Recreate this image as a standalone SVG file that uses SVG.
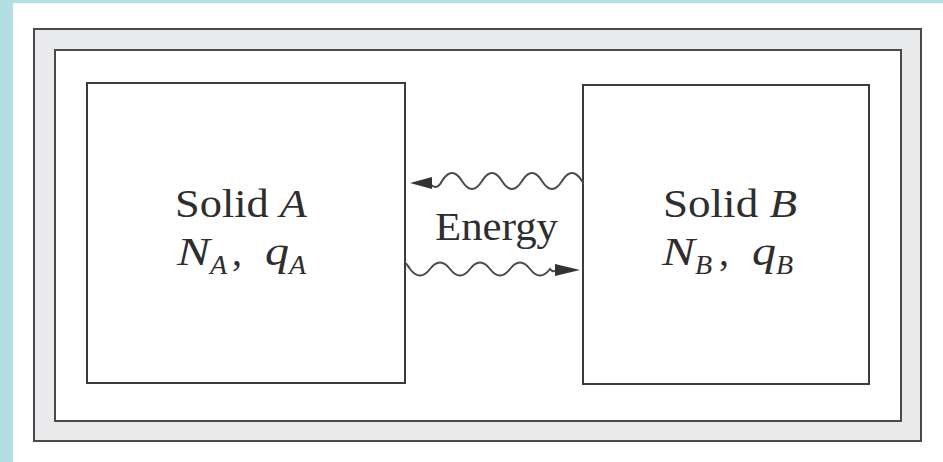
<svg xmlns="http://www.w3.org/2000/svg" width="943" height="462" viewBox="0 0 943 462">
  <defs>
    <style>
      .frame { fill: none; stroke: #4a4a4a; stroke-width: 2; }
      .box { fill: #ffffff; stroke: #3c3c3c; stroke-width: 2; }
      .lbl { font-family: "Liberation Serif", "DejaVu Serif", serif; font-size: 40px; fill: #2e2e2e; }
      .it { font-style: italic; }
      .sub { font-style: italic; font-size: 28px; }
      .wave { fill: none; stroke: #4a4a4a; stroke-width: 2; }
      .head { fill: #333333; }
    </style>
  </defs>
  <rect x="0" y="0" width="943" height="462" fill="#b4dfe2"/>
  <rect x="13" y="3" width="930" height="459" fill="#ffffff"/>
  <g id="container">
    <path d="M34,29 H921 V441 H34 Z M55,50 V421 H901 V50 Z" fill="#e9eaeb" fill-rule="evenodd"/>
    <rect class="frame" x="34" y="29" width="887" height="412"/>
    <rect class="frame" x="55" y="50" width="846" height="371"/>
  </g>
  <g id="solidA">
    <rect class="box" x="87" y="83" width="318" height="300"/>
    <text class="lbl" x="175" y="217" textLength="132" lengthAdjust="spacingAndGlyphs">Solid <tspan class="it">A</tspan></text>
    <text class="lbl it" x="177" y="265" textLength="33" lengthAdjust="spacingAndGlyphs">N</text>
    <text class="lbl sub" x="210" y="274">A</text>
    <text class="lbl" x="232" y="265">,</text>
    <text class="lbl it" x="265" y="265" textLength="24" lengthAdjust="spacingAndGlyphs">q</text>
    <text class="lbl sub" x="289" y="274">A</text>
  </g>
  <g id="solidB">
    <rect class="box" x="583" y="85" width="286" height="299"/>
    <text class="lbl" x="663" y="217" textLength="134" lengthAdjust="spacingAndGlyphs">Solid <tspan class="it">B</tspan></text>
    <text class="lbl it" x="662" y="265" textLength="33" lengthAdjust="spacingAndGlyphs">N</text>
    <text class="lbl sub" x="695" y="274">B</text>
    <text class="lbl" x="719" y="265">,</text>
    <text class="lbl it" x="752" y="265" textLength="24" lengthAdjust="spacingAndGlyphs">q</text>
    <text class="lbl sub" x="776" y="274">B</text>
  </g>
  <g id="energy">
    <text class="lbl" x="435" y="240" textLength="123" lengthAdjust="spacingAndGlyphs">Energy</text>
  </g>
  <g id="connectors">
    <path class="wave" d="M583,184 Q583,181 582,181 q-10,-16 -20,0 t-20,0 t-20,0 t-20,0 t-20,0 t-20,0 t-20,0 Q437,191 430,184"/>
    <polygon class="head" points="410,183 432,177 432,189"/>
    <path class="wave" d="M405,263 Q407,264 410,269 q10,13 20,0 t20,0 t20,0 t20,0 t20,0 t20,0 t20,0 Q553,273 557,270"/>
    <polygon class="head" points="580,270 555,264 555,276"/>
  </g>
</svg>
